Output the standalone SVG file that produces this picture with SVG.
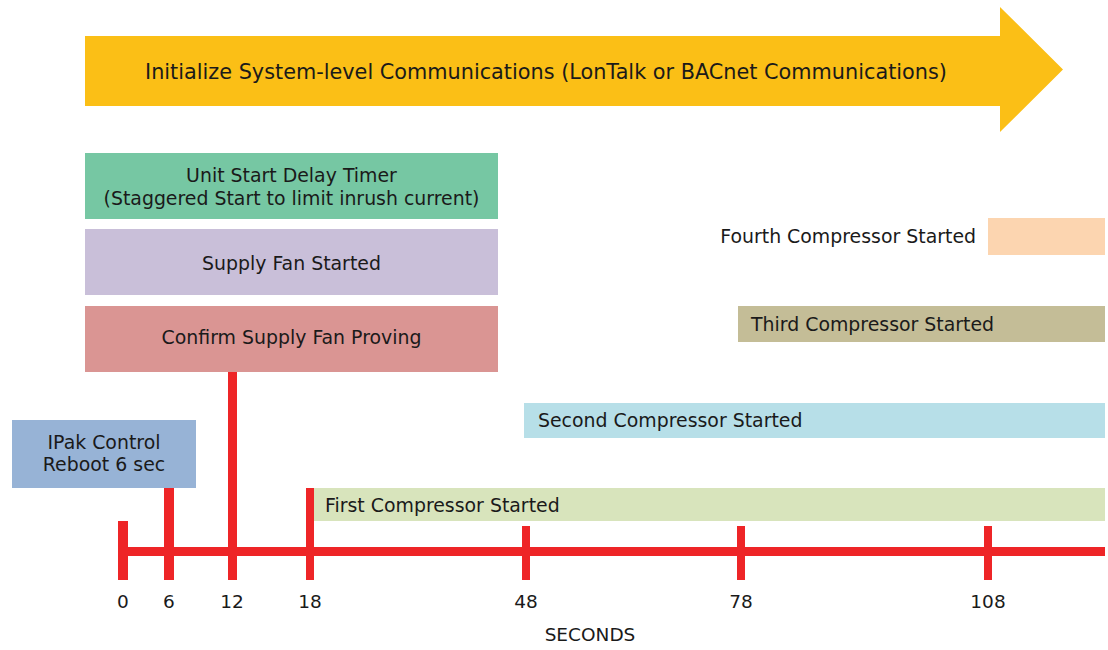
<svg xmlns="http://www.w3.org/2000/svg" width="1108" height="650" viewBox="0 0 1108 650">
<style>
text{font-family:"DejaVu Sans","Liberation Sans",sans-serif;fill:#1a1a1a;}
.lbl{font-size:18.9px;}
.mid{text-anchor:middle;}
.tick{font-size:18.5px;text-anchor:middle;}
.axis{fill:#EE2527;}
</style>
<rect width="1108" height="650" fill="#ffffff"/>
<g id="init">
<polygon points="85,36 1000,36 1000,7 1063,69.5 1000,132 1000,106 85,106" fill="#FBBF16"/>
<text x="145" y="79" style="font-size:20.8px">Initialize System-level Communications (LonTalk or BACnet Communications)</text>
</g>
<g id="delay">
<rect x="85" y="153" width="413" height="66" fill="#76C7A3"/>
<text class="lbl mid" x="291.5" y="182">Unit Start Delay Timer</text>
<text class="lbl mid" x="291.5" y="205">(Staggered Start to limit inrush current)</text>
</g>
<g id="fan">
<rect x="85" y="229" width="413" height="66" fill="#C9BFD9"/>
<text class="lbl mid" x="291.5" y="270">Supply Fan Started</text>
</g>
<g id="proving">
<rect x="85" y="306" width="413" height="66" fill="#DA9593"/>
<text class="lbl mid" x="291.5" y="344">Confirm Supply Fan Proving</text>
</g>
<g id="reboot">
<rect x="12" y="420" width="184" height="68" fill="#97B3D6"/>
<text class="lbl mid" x="104" y="449">IPak Control</text>
<text class="lbl mid" x="104" y="471">Reboot 6 sec</text>
</g>
<g id="comp4">
<rect x="988" y="218" width="117" height="37" fill="#FCD5B0"/>
<text class="lbl" x="976" y="243" text-anchor="end">Fourth Compressor Started</text>
</g>
<g id="comp3">
<rect x="738" y="306" width="367" height="36" fill="#C4BD97"/>
<text class="lbl" x="751" y="331">Third Compressor Started</text>
</g>
<g id="comp2">
<rect x="524" y="403" width="581" height="35" fill="#B7DFE8"/>
<text class="lbl" x="538" y="427">Second Compressor Started</text>
</g>
<g id="comp1">
<rect x="314" y="488" width="791" height="33" fill="#D8E4BC"/>
<text class="lbl" x="325" y="512">First Compressor Started</text>
</g>
<g id="connectors">
<rect class="axis" x="118" y="547" width="987" height="9"/>
<rect class="axis" x="118" y="521" width="10" height="59"/>
<rect class="axis" x="164" y="488" width="10" height="92"/>
<rect class="axis" x="228" y="372" width="9" height="208"/>
<rect class="axis" x="306" y="488" width="8" height="92"/>
<rect class="axis" x="522" y="526" width="8" height="54"/>
<rect class="axis" x="737" y="526" width="8" height="54"/>
<rect class="axis" x="984" y="526" width="8" height="54"/>
</g>
<g id="labels">
<text class="tick" x="123" y="608">0</text>
<text class="tick" x="169" y="608">6</text>
<text class="tick" x="232" y="608">12</text>
<text class="tick" x="310" y="608">18</text>
<text class="tick" x="526" y="608">48</text>
<text class="tick" x="741" y="608">78</text>
<text class="tick" x="988" y="608">108</text>
<text class="tick" x="590" y="641">SECONDS</text>
</g>
</svg>
